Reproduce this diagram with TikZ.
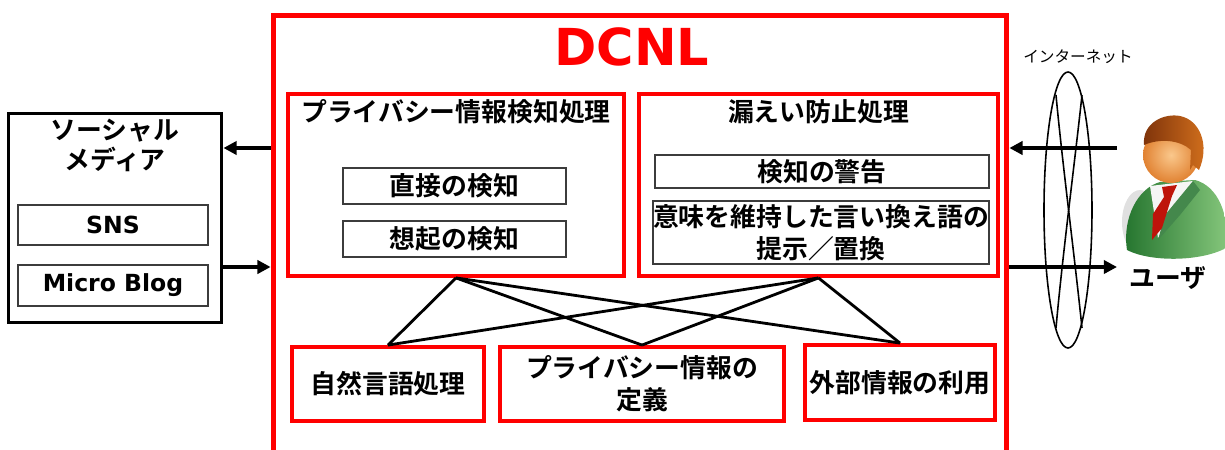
\documentclass[tikz,border=0pt]{standalone}
\usepackage{fontspec}
\newfontfamily\jpfont{Noto Sans CJK JP}[BoldFont={Noto Sans CJK JP Bold}]
\newfontfamily\vfont{DejaVu Sans}
\usetikzlibrary{arrows.meta,positioning}
\definecolor{dcred}{RGB}{255,0,0}
\definecolor{boxgray}{RGB}{60,60,60}
\definecolor{suitdark}{RGB}{35,115,45}
\definecolor{suitlight}{RGB}{135,200,125}
\definecolor{skinin}{RGB}{250,200,140}
\definecolor{skinout}{RGB}{225,130,50}
\definecolor{haird}{RGB}{125,50,10}
\definecolor{hairl}{RGB}{215,115,30}
\definecolor{tiered}{RGB}{190,20,10}

\begin{document}
\begin{tikzpicture}[x=0.02cm, y=-0.02cm,
  jp/.style={font=\jpfont\bfseries\fontsize{14.7}{18}\selectfont},
  lat/.style={font=\vfont\bfseries\fontsize{13.4}{16}\selectfont},
  redbox/.style={draw=dcred, line width=2.2pt, inner sep=0pt},
  subbox/.style={draw=boxgray, line width=0.8pt, inner sep=0pt},
  link/.style={line width=1.6pt},
  bigarrow/.style={line width=2.4pt, -{Triangle[length=7.5pt,width=7.5pt]}}]
\useasboundingbox (0,0) rectangle (1225,450);
% DCNL frame
\node[redbox, line width=2.8pt, minimum width=14.68cm, minimum height=9.1cm] (dcnl) at (640,242.5) {};
\node[text=dcred, font=\vfont\bfseries\fontsize{29}{30}\selectfont] (dcnlT) at (632,47) {DCNL};
% detection block
\node[redbox, minimum width=6.72cm, minimum height=3.64cm] (detect) at (456,185) {};
\node[jp] (detectT) at (456,112) {プライバシー情報検知処理};
\node[subbox, jp, minimum width=4.46cm, minimum height=0.72cm] (direct) at (454.5,186) {直接の検知};
\node[subbox, jp, minimum width=4.46cm, minimum height=0.72cm] (recall) at (454.5,239) {想起の検知};
% leak prevention block
\node[redbox, minimum width=7.18cm, minimum height=3.64cm] (prevent) at (818.5,185) {};
\node[jp] (preventT) at (818.5,112) {漏えい防止処理};
\node[subbox, jp, minimum width=6.68cm, minimum height=0.66cm] (warn) at (822,171.5) {検知の警告};
\node[subbox, jp, align=center, minimum width=6.72cm, minimum height=1.26cm] (para) at (821,232.5) {意味を維持した言い換え語の\\提示／置換};
% base components
\node[redbox, jp, minimum width=3.84cm, minimum height=1.48cm] (nlp) at (388,384) {自然言語処理};
\node[redbox, jp, align=center, minimum width=5.68cm, minimum height=1.48cm] (defn) at (642,384) {プライバシー情報の\\定義};
\node[redbox, jp, minimum width=3.8cm, minimum height=1.5cm] (ext) at (900,382.5) {外部情報の利用};
\foreach \a in {detect,prevent}
  \foreach \b in {nlp,defn,ext}
    \draw[link] (\a.south) -- (\b.north);
% social media
\node[draw, line width=1.7pt, minimum width=4.28cm, minimum height=4.2cm] (sm) at (115,218) {};
\node[jp, align=center, font=\jpfont\bfseries\fontsize{14.7}{17}\selectfont] (smT) at (115,145) {ソーシャル\\メディア};
\node[subbox, lat, minimum width=3.8cm, minimum height=0.8cm] (sns) at (113,225) {SNS};
\node[subbox, lat, minimum width=3.8cm, minimum height=0.82cm] (blog) at (113,285.5) {Micro Blog};
% arrows in and out
\coordinate (inR) at (1117,148);
\coordinate (outR) at (1117,267);
\draw[bigarrow] (dcnl.west |- inR) -- (sm.east |- inR);
\draw[bigarrow] (sm.east |- outR) -- (dcnl.west |- outR);
\draw[bigarrow] (inR) -- (dcnl.east |- inR);
\draw[bigarrow] (dcnl.east |- outR) -- (outR);
% internet
\node[font=\jpfont\fontsize{8.9}{10}\selectfont] (net) at (1078,57) {インターネット};
\draw[line width=0.9pt] (1068,210) ellipse [x radius=24, y radius=138];
\draw[line width=0.9pt] (1056,95) .. controls (1062,160) and (1075,260) .. (1082,328);
\draw[line width=0.9pt] (1082,95) .. controls (1075,160) and (1062,260) .. (1056,328);
% user
\fill[black!12] (1140,222) ellipse [x radius=18, y radius=32];
\shade[left color=suitdark, right color=suitlight] (1127,250) .. controls (1122,218) and (1138,188) .. (1160,182) -- (1195,180) .. controls (1218,186) and (1230,215) .. (1226,248) .. controls (1200,262) and (1150,262) .. (1127,250) -- cycle;
\fill[black!4] (1150,186) -- (1193,181) -- (1158,238) -- cycle;
\fill[suitdark!85] (1193,181) -- (1200,190) -- (1180,215) -- (1158,240) -- (1165,215) -- cycle;
\fill[tiered] (1162,187) -- (1177,185) -- (1172,196) -- (1162,228) -- (1152,240) -- (1153,214) -- (1164,197) -- cycle;
\shade[inner color=skinin, outer color=skinout] (1171,155) circle [radius=28];
\shade[left color=haird, right color=hairl] (1144,145) .. controls (1142,122) and (1165,113) .. (1180,116) .. controls (1200,120) and (1210,145) .. (1199,170) -- (1193,165) -- (1190,170) -- (1191,150) .. controls (1180,140) and (1160,138) .. (1144,145) -- cycle;
\node[jp] (user) at (1168,278) {ユーザ};
\end{tikzpicture}
\end{document}
